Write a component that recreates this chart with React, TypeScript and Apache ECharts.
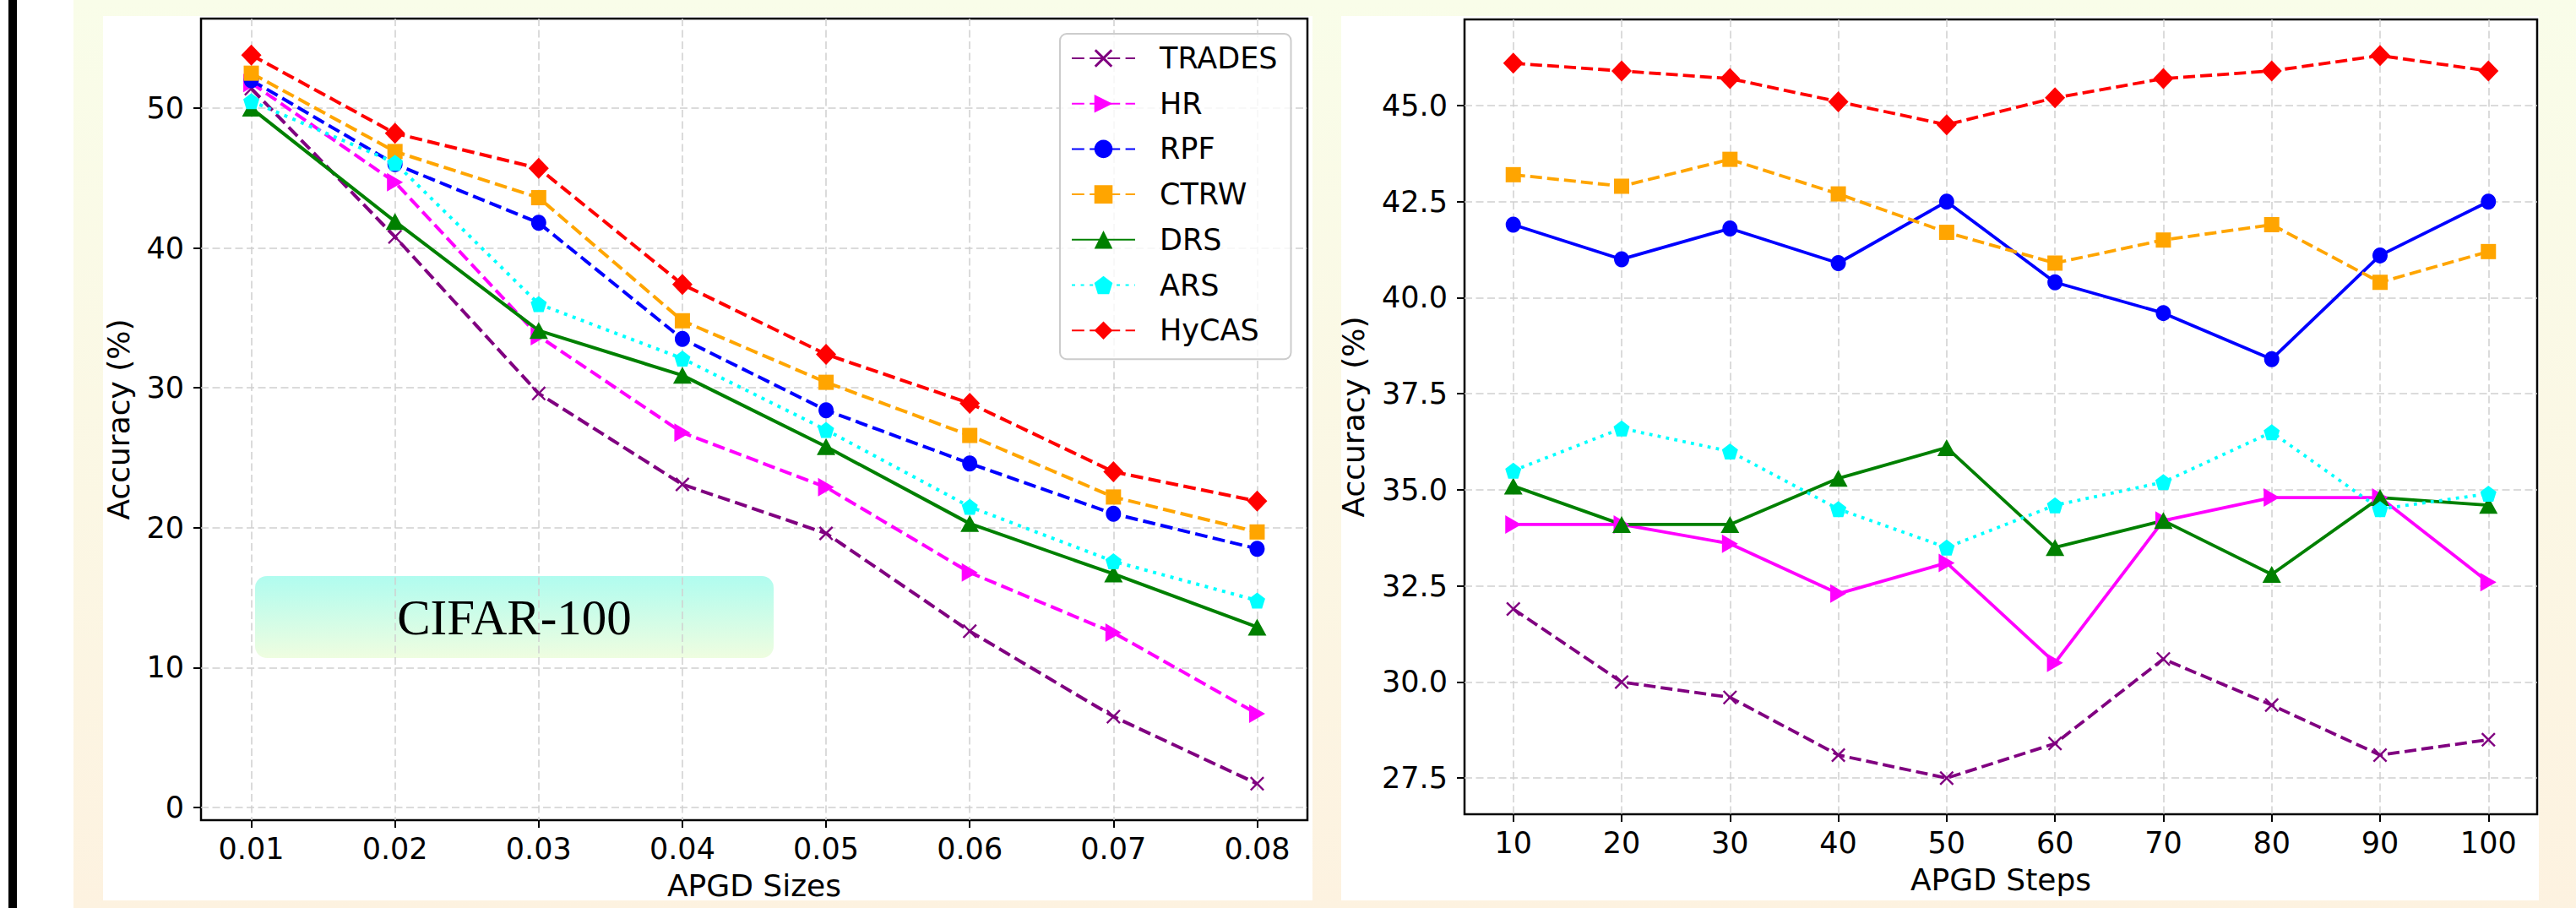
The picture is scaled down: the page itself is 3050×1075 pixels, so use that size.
import React, { useEffect, useRef } from "react";
import * as echarts from "echarts";

// ---------------- data ----------------
const METHODS = ["TRADES", "HR", "RPF", "CTRW", "DRS", "ARS", "HyCAS"];

// Left panel: accuracy vs APGD sizes (CIFAR-100)
const SIZE_LABELS = ["0.01", "0.02", "0.03", "0.04", "0.05", "0.06", "0.07", "0.08"];
const SIZE_TRADES = [51.4, 40.8, 29.6, 23.1, 19.6, 12.6, 6.5, 1.7];
const SIZE_HR = [51.8, 44.7, 33.7, 26.8, 22.9, 16.8, 12.5, 6.7];
const SIZE_RPF = [52.0, 46.0, 41.8, 33.5, 28.4, 24.6, 21.0, 18.5];
const SIZE_CTRW = [52.5, 46.9, 43.6, 34.8, 30.4, 26.6, 22.2, 19.7];
const SIZE_DRS = [50.0, 41.9, 34.1, 30.9, 25.8, 20.3, 16.7, 12.9];
const SIZE_ARS = [50.5, 46.1, 36.0, 32.1, 27.0, 21.5, 17.6, 14.8];
const SIZE_HYCAS = [53.8, 48.2, 45.7, 37.4, 32.4, 28.9, 24.0, 21.9];
const SIZE_Y_TICKS = [0, 10, 20, 30, 40, 50];

// Right panel: accuracy vs APGD steps
const STEP_LABELS = ["10", "20", "30", "40", "50", "60", "70", "80", "90", "100"];
const STEP_TRADES = [31.9, 30.0, 29.6, 28.1, 27.5, 28.4, 30.6, 29.4, 28.1, 28.5];
const STEP_HR = [34.1, 34.1, 33.6, 32.3, 33.1, 30.5, 34.2, 34.8, 34.8, 32.6];
const STEP_RPF = [41.9, 41.0, 41.8, 40.9, 42.5, 40.4, 39.6, 38.4, 41.1, 42.5];
const STEP_CTRW = [43.2, 42.9, 43.6, 42.7, 41.7, 40.9, 41.5, 41.9, 40.4, 41.2];
const STEP_DRS = [35.1, 34.1, 34.1, 35.3, 36.1, 33.5, 34.2, 32.8, 34.8, 34.6];
const STEP_ARS = [35.5, 36.6, 36.0, 34.5, 33.5, 34.6, 35.2, 36.5, 34.5, 34.9];
const STEP_HYCAS = [46.1, 45.9, 45.7, 45.1, 44.5, 45.2, 45.7, 45.9, 46.3, 45.9];
const STEP_Y_TICKS = [27.5, 30.0, 32.5, 35.0, 37.5, 40.0, 42.5, 45.0];

const ANNOTATION = "CIFAR-100";

// ---------------- styles ----------------
const W = 3050;
const H = 1075;
const FONT = "DejaVu Sans";

const COLOR: Record<string, string> = {
  TRADES: "#800080",
  HR: "#ff00ff",
  RPF: "#0000ff",
  CTRW: "#ffa500",
  DRS: "#008000",
  ARS: "#00ffff",
  HyCAS: "#ff0000",
};
const X_PATH =
  "path://M0 10 L10 0 L50 40 L90 0 L100 10 L60 50 L100 90 L90 100 L50 60 L10 100 L0 90 L40 50 Z";
const PENTAGON_PATH = "path://M50 0 L100 36.3 L80.9 95.1 L19.1 95.1 L0 36.3 Z";
const SYMBOL: Record<string, string> = {
  TRADES: X_PATH,
  HR: "triangle",
  RPF: "circle",
  CTRW: "rect",
  DRS: "triangle",
  ARS: PENTAGON_PATH,
  HyCAS: "diamond",
};
const SYMBOL_SIZE: Record<string, number[]> = {
  TRADES: [17, 17],
  HR: [22, 19],
  RPF: [18, 19],
  CTRW: [18, 18],
  DRS: [22, 20],
  ARS: [19, 19],
  HyCAS: [24, 25],
};
const SYMBOL_ROTATE: Record<string, number> = { HR: -90 };

const LEFT_DASH: Record<string, string> = {
  TRADES: "dash", HR: "dash", RPF: "dash", CTRW: "dash", DRS: "solid", ARS: "dot", HyCAS: "dash",
};
const RIGHT_DASH: Record<string, string> = {
  TRADES: "dash", HR: "solid", RPF: "solid", CTRW: "dash", DRS: "solid", ARS: "dot", HyCAS: "dash",
};

const LEFT_FRAME = { x0: 238, x1: 1548, y0: 22, y1: 971 };
const RIGHT_FRAME = { x0: 1734, x1: 3004, y0: 23, y1: 964 };

const GRID_LINE = { color: "#cfcfcf", width: 1.5, type: [9, 4.5] as number[] };
const TICK_LINE = { color: "#000", width: 2 };

function padRange(arrs: number[][]): [number, number] {
  const all = arrs.flat();
  const lo = Math.min(...all);
  const hi = Math.max(...all);
  const m = (hi - lo) * 0.05;
  return [lo - m, hi + m];
}

function dashFor(kind: string, lw: number): any {
  if (kind === "dash") return [3.7 * lw, 1.6 * lw];
  if (kind === "dot") return [1 * lw, 1.65 * lw];
  return "solid";
}

function panel(
  gridBase: number,
  frame: { x0: number; x1: number; y0: number; y1: number },
  labels: string[],
  values: Record<string, number[]>,
  yTicks: number[],
  dash: Record<string, string>,
  lw: number,
  xName: string,
  yNameGap: number,
  labelFmt: (v: number) => string
) {
  const [lo, hi] = padRange(Object.values(values));
  const yPix = (v: number) => frame.y1 - ((v - lo) / (hi - lo)) * (frame.y1 - frame.y0);
  const fw = frame.x1 - frame.x0;
  const n = labels.length;
  const catInset = (fw * 0.05 * (n - 1)) / (1.1 * (n - 1));

  const grids = [
    {
      left: frame.x0, top: frame.y0, width: fw, height: frame.y1 - frame.y0,
      show: true, borderColor: "#000", borderWidth: 2.5, backgroundColor: "transparent",
      containLabel: false, outerBoundsMode: "none",
    },
    {
      left: frame.x0, width: fw,
      top: yPix(yTicks[yTicks.length - 1]),
      height: yPix(yTicks[0]) - yPix(yTicks[yTicks.length - 1]),
      containLabel: false, outerBoundsMode: "none",
    },
    {
      left: frame.x0 + catInset, width: fw - 2 * catInset,
      top: frame.y0, height: frame.y1 - frame.y0,
      containLabel: false, outerBoundsMode: "none",
    },
  ];

  const xAxes = [
    {
      gridIndex: gridBase, type: "value", min: 0, max: 1,
      name: xName, nameLocation: "middle", nameGap: 59,
      nameTextStyle: { fontSize: 36, color: "#000", fontFamily: FONT },
      axisLine: { show: false, onZero: false }, axisTick: { show: false },
      axisLabel: { show: false }, splitLine: { show: false },
    },
    { gridIndex: gridBase + 1, type: "category", data: labels, show: false, axisLine: { onZero: false } },
    {
      gridIndex: gridBase + 2, type: "category", data: labels, boundaryGap: false,
      axisLine: { show: false, onZero: false },
      axisTick: { show: true, length: 9, interval: 0, alignWithLabel: true, lineStyle: TICK_LINE },
      axisLabel: { fontSize: 35, color: "#000", margin: 16, interval: 0, fontFamily: FONT },
      splitLine: { show: true, interval: 0, lineStyle: GRID_LINE },
    },
  ];
  const yAxes = [
    {
      gridIndex: gridBase, type: "value", min: 0, max: 1,
      name: "Accuracy (%)", nameLocation: "middle", nameGap: yNameGap,
      nameTextStyle: { fontSize: 36, color: "#000", fontFamily: FONT },
      axisLine: { show: false, onZero: false }, axisTick: { show: false },
      axisLabel: { show: false }, splitLine: { show: false },
    },
    {
      gridIndex: gridBase + 1, type: "value",
      min: yTicks[0], max: yTicks[yTicks.length - 1], interval: yTicks[1] - yTicks[0],
      axisLine: { show: false, onZero: false },
      axisTick: { show: true, length: 9, lineStyle: TICK_LINE },
      axisLabel: { fontSize: 35, color: "#000", margin: 20, formatter: labelFmt, fontFamily: FONT },
      splitLine: { show: true, lineStyle: GRID_LINE },
    },
    {
      gridIndex: gridBase + 2, type: "value", min: lo, max: hi, show: false,
      axisLine: { onZero: false },
    },
  ];

  const series = METHODS.map((m) => ({
    type: "line",
    name: m,
    xAxisIndex: gridBase + 2,
    yAxisIndex: gridBase + 2,
    data: values[m],
    symbol: SYMBOL[m],
    symbolSize: SYMBOL_SIZE[m],
    symbolRotate: SYMBOL_ROTATE[m] || 0,
    showSymbol: true,
    showAllSymbol: true,
    clip: false,
    lineStyle: { color: COLOR[m], width: lw, type: dashFor(dash[m], lw), cap: "butt" },
    itemStyle: { color: COLOR[m], borderWidth: 0 },
    emphasis: { disabled: true },
    silent: true,
  }));

  return { grids, xAxes, yAxes, series };
}

export default function App() {
  const ref = useRef<HTMLDivElement>(null);

  useEffect(() => {
    if (!ref.current) return;
    const chart = echarts.init(ref.current, null, { renderer: "svg", width: W, height: H });

    const left = panel(
      0, LEFT_FRAME, SIZE_LABELS,
      { TRADES: SIZE_TRADES, HR: SIZE_HR, RPF: SIZE_RPF, CTRW: SIZE_CTRW, DRS: SIZE_DRS, ARS: SIZE_ARS, HyCAS: SIZE_HYCAS },
      SIZE_Y_TICKS, LEFT_DASH, 4, "APGD Sizes", 80, (v: number) => String(v)
    );
    const right = panel(
      3, RIGHT_FRAME, STEP_LABELS,
      { TRADES: STEP_TRADES, HR: STEP_HR, RPF: STEP_RPF, CTRW: STEP_CTRW, DRS: STEP_DRS, ARS: STEP_ARS, HyCAS: STEP_HYCAS },
      STEP_Y_TICKS, RIGHT_DASH, 3.8, "APGD Steps", 114, (v: number) => v.toFixed(1)
    );

    const option: any = {
      animation: false,
      backgroundColor: "transparent",
      textStyle: { fontFamily: FONT, color: "#000" },
      grid: [...left.grids, ...right.grids],
      xAxis: [...left.xAxes, ...right.xAxes],
      yAxis: [...left.yAxes, ...right.yAxes],
      series: [...left.series, ...right.series],
      legend: {
        data: METHODS,
        orient: "vertical",
        left: 1255,
        top: 40,
        itemWidth: 75,
        itemHeight: 27,
        itemGap: 13.7,
        padding: [9, 16, 14, 13],
        backgroundColor: "rgba(255,255,255,0.8)",
        borderColor: "#cccccc",
        borderWidth: 2,
        borderRadius: 8,
        selectedMode: false,
        textStyle: { fontSize: 35, color: "#000", fontFamily: FONT, lineHeight: 40, padding: [0, 0, 0, 24] },
      },
      graphic: [
        {
          type: "group",
          x: 302,
          y: 682,
          z: 10,
          children: [
            {
              type: "rect",
              shape: { x: 0, y: 0, width: 614, height: 97, r: 14 },
              style: {
                fill: new echarts.graphic.LinearGradient(0, 0, 0, 1, [
                  { offset: 0, color: "#b0fcef" },
                  { offset: 1, color: "#effde0" },
                ]),
              },
            },
            {
              type: "text",
              x: 307,
              y: 49,
              style: {
                text: ANNOTATION,
                fontSize: 59,
                fontFamily: "Liberation Serif",
                fill: "#000",
                align: "center",
                verticalAlign: "middle",
              },
            },
          ],
        },
      ],
    };
    chart.setOption(option);
    return () => chart.dispose();
  }, []);

  return (
    <div style={{ position: "fixed", left: 0, top: 0, width: W, height: H, background: "#ffffff", overflow: "hidden" }}>
      <div
        style={{
          position: "absolute", left: 87, top: 0, width: W - 87, height: H,
          background: "linear-gradient(180deg, #f9fde9 0%, #fdf2e0 100%)",
        }}
      />
      <div style={{ position: "absolute", left: 10, top: 0, width: 10, height: H, background: "#000" }} />
      <div style={{ position: "absolute", left: 122, top: 19, width: 1554 - 122, height: 1066 - 19, background: "#fff" }} />
      <div style={{ position: "absolute", left: 1588, top: 19, width: 3006 - 1588, height: 1066 - 19, background: "#fff" }} />
      <div ref={ref} style={{ position: "absolute", left: 0, top: 0, width: W, height: H }} />
    </div>
  );
}
